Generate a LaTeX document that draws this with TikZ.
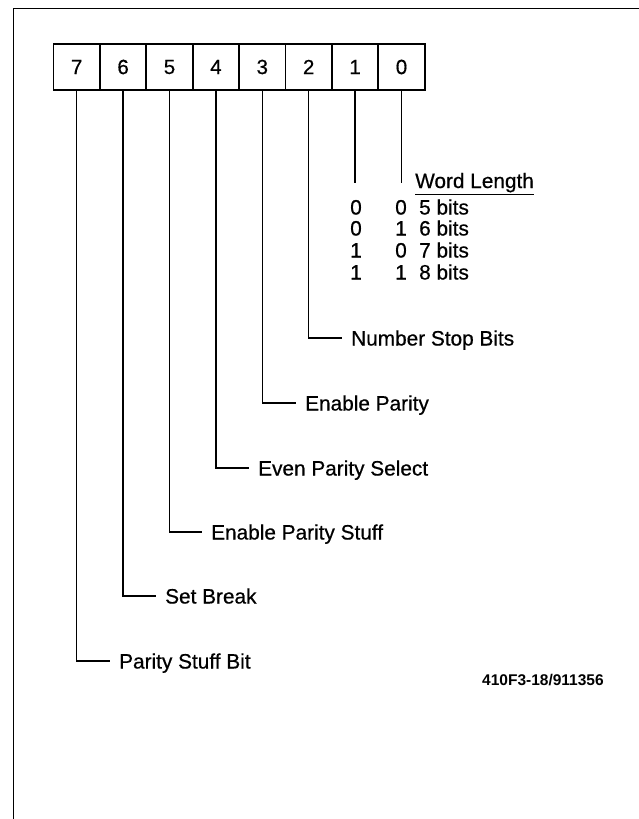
\documentclass[tikz,border=0pt]{standalone}
\usepackage{fontspec}
\setmainfont{Liberation Sans}
\newfontfamily\scanfont{Liberation Sans}[FakeBold=0.6]
\begin{document}
\begin{tikzpicture}[x=1pt,y=-1pt,
  bitbox/.style={draw, line width=1.8pt, minimum width=46.4pt, minimum height=46pt,
    inner sep=0pt, outer sep=0pt, anchor=north west, font=\scanfont\fontsize{20.5}{24}\selectfont},
  lab/.style={anchor=west, inner xsep=9pt, inner ysep=0pt, text height=15pt, text depth=0pt,
    font=\scanfont\fontsize{20.8}{25}\selectfont},
  tab/.style={inner sep=0pt, text height=15pt, text depth=0pt, font=\scanfont\fontsize{20.8}{25}\selectfont},
  conn/.style={line width=1.4pt},
  frameline/.style={line width=1.6pt}]
\useasboundingbox (0,0) rectangle (639,819);
% frame
\draw[frameline] (13.5,819) -- (13.5,8.5) -- (639,8.5);
% register boxes
\foreach \b [count=\i from 0] in {7,6,5,4,3,2,1,0}
  \node[bitbox] (b\b) at ({53.5+\i*46.4},44) {\b};
% labels
\node[lab] (l2) at (342,338) {Number Stop Bits};
\node[lab] (l3) at (296,403) {Enable Parity};
\node[lab] (l4) at (249,468) {Even Parity Select};
\node[lab] (l5) at (202,532) {Enable Parity Stuff};
\node[lab] (l6) at (156,596) {Set Break};
\node[lab] (l7) at (110,661) {Parity Stuff Bit};
% connectors
\foreach \b in {2,3,4,5,6,7}
  \draw[conn] (b\b.south) |- (l\b.west);
\path (b1.south) ++(0,93) coordinate (e1);
\path (b0.south) ++(0,93) coordinate (e0);
\draw[conn] (b1.south) -- (e1);
\draw[conn] (b0.south) -- (e0);
% word length table
\node[anchor=base west, inner sep=0pt, font=\scanfont\fontsize{20.8}{25}\selectfont] (wl) at (415,188) {\underline{Word Length}};
\foreach \yy/\a/\c/\t [count=\r] in {207/0/0/5, 228/0/1/6, 250/1/0/7, 272/1/1/8} {
  \node[tab] (ta\r) at (356,\yy) {\a};
  \node[tab] (tc\r) at (401,\yy) {\c};
  \node[tab, anchor=west] (tt\r) at (419,\yy) {\t\ bits};
}
% figure code
\node[anchor=west, inner sep=0pt, font=\bfseries\fontsize{15.5}{18}\selectfont] (code) at (482,680) {410F3-18/911356};
\end{tikzpicture}
\end{document}
